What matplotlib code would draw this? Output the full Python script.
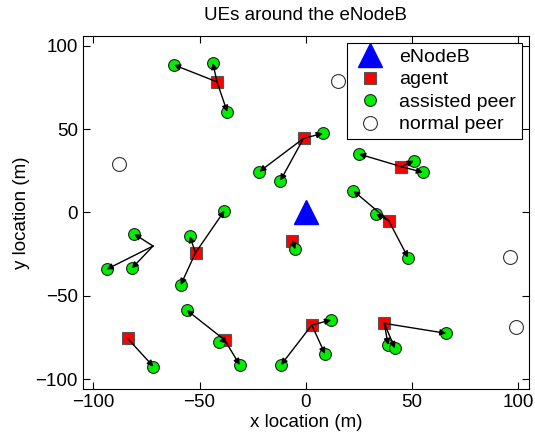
import matplotlib
matplotlib.use('Agg')
import matplotlib.pyplot as plt

plt.rcParams['font.family'] = ['Liberation Sans', 'DejaVu Sans']

# agents (red squares); the one at (-72, -20) has arrows but no square drawn
agent_x = [-41.8, -1.1, 45.0, 39.0, -6.3, -51.9, -71.9, -83.9, -38.2, 2.8, 36.9]
agent_y = [78.3, 44.4, 27.4, -5.0, -17.2, -24.2, -20.2, -75.6, -76.6, -67.6, -66.6]
agent_shown = [True, True, True, True, True, True, False, True, True, True, True]

# assisted peers (green) and the agent each is served by
peer_x = [-62.1, -43.8, -37.0, 8.0, -12.0, -21.9, 25.0, 50.8, 55.1, 22.3, 33.0, 48.1,
          -5.0, -38.3, -54.7, -58.9, -80.8, -81.9, -93.8, -71.7, -56.1, -41.0, -31.1,
          11.9, 9.0, -11.7, 66.1, 38.7, 41.9]
peer_y = [88.5, 89.7, 60.3, 47.4, 19.0, 24.4, 35.0, 31.0, 24.0, 13.0, -1.0, -27.2,
          -22.2, 1.0, -14.2, -43.6, -13.0, -33.6, -34.2, -92.6, -58.6, -77.6, -91.6,
          -64.6, -85.0, -91.6, -72.6, -79.6, -81.6]
peer_agent = [0, 0, 0, 1, 1, 1, 2, 2, 2, 3, 3, 3, 4, 5, 5, 5, 6, 6, 6, 7, 8, 8, 8,
              9, 9, 9, 10, 10, 10]

# normal peers (white)
normal_x = [-87.9, 15.0, 96.1, 98.9]
normal_y = [29.0, 79.0, -26.6, -68.6]

enb_x, enb_y = [0.0], [0.0]

fig = plt.figure(figsize=(5.35, 4.41), dpi=100)
ax = fig.add_axes([0.1546, 0.1179, 0.8342, 0.8011])

ax.plot(enb_x, enb_y, '^', color='blue', markersize=17, markeredgecolor='blue',
        label='eNodeB', zorder=3)
sx = [x for x, s in zip(agent_x, agent_shown) if s]
sy = [y for y, s in zip(agent_y, agent_shown) if s]
ax.plot(sx, sy, 's', color='red', markersize=8, markeredgecolor='#555555',
        markeredgewidth=0.8, label='agent', zorder=3)
ax.plot(peer_x, peer_y, 'o', color='#00ee00', markersize=8.5, markeredgecolor='#222222',
        markeredgewidth=0.8, label='assisted peer', zorder=3)
ax.plot(normal_x, normal_y, 'o', color='white', markersize=10, markeredgecolor='#333333',
        markeredgewidth=0.8, label='normal peer', zorder=3)

for px, py, a in zip(peer_x, peer_y, peer_agent):
    ax.annotate('', xy=(px, py), xytext=(agent_x[a], agent_y[a]),
                arrowprops=dict(arrowstyle='-|>', color='black', lw=1.0,
                                mutation_scale=9, shrinkA=0, shrinkB=0),
                zorder=4)

ax.set_xlim(-105, 105)
ax.set_ylim(-106, 106)
ax.set_xticks([-100, -50, 0, 50, 100])
ax.set_yticks([-100, -50, 0, 50, 100])
ax.tick_params(direction='in', top=True, right=True, labelsize=13.5, length=5)
ax.set_xlabel('x location (m)', fontsize=13.5, labelpad=2)
ax.set_ylabel('y location (m)', fontsize=13.5)
ax.set_title('UEs around the eNodeB', fontsize=13.5, pad=11)

leg = ax.legend(loc='upper right', fontsize=14, fancybox=False, framealpha=1,
                edgecolor='black', borderaxespad=0.35, handletextpad=0.6,
                labelspacing=0.25, borderpad=0.3, handlelength=1.8)
leg.get_frame().set_linewidth(0.8)

fig.savefig('out.png', dpi=100)
